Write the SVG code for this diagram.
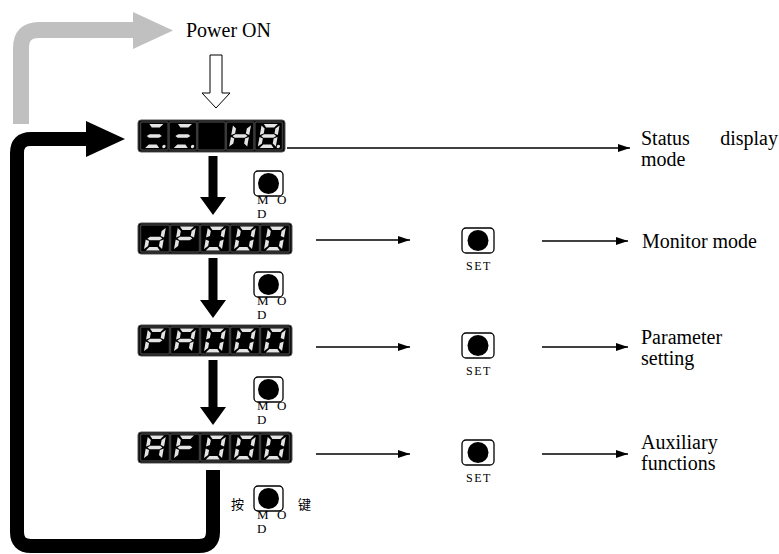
<svg xmlns="http://www.w3.org/2000/svg" xmlns:xlink="http://www.w3.org/1999/xlink" width="779" height="554" viewBox="0 0 779 554">
<style>
text{font-family:'Liberation Serif','Times New Roman','DejaVu Serif',serif;fill:#000}
.lbl{font-size:20px}
.sm{font-size:13px}
.set{font-size:12px;letter-spacing:1.5px}
.cjk{font-family:'Noto Sans CJK SC',sans-serif;font-size:13px}
.seg{fill:#e4e4e4}
.disp{fill:#050505;stroke:#555;stroke-width:1}
.cell{fill:#000;stroke:#3a3a3a;stroke-width:1.5}
.btn{fill:#fff;stroke:#000;stroke-width:1.3}
.thin{fill:none;stroke:#000;stroke-width:1.5}
</style>
<defs>
<marker id="ah" viewBox="0 0 12 8" refX="12" refY="4" markerWidth="12" markerHeight="8" markerUnits="userSpaceOnUse" orient="auto"><path d="M0,0 L12,4 L0,8 z" fill="#000"/></marker>
<polygon id="sa" class="seg" points="2,0 16,0 13,3.6 5,3.6"/>
<polygon id="sb" class="seg" points="18,1.5 18,11 14.4,9.6 14.4,4.4"/>
<polygon id="sc" class="seg" points="18,13 18,22.5 14.4,19.6 14.4,14.4"/>
<polygon id="sd" class="seg" points="5,20.4 13,20.4 16,24 2,24"/>
<polygon id="se" class="seg" points="0,13 3.6,14.4 3.6,19.6 0,22.5"/>
<polygon id="sf" class="seg" points="0,1.5 3.6,4.4 3.6,9.6 0,11"/>
<polygon id="sg" class="seg" points="1.5,12 4,10.2 14,10.2 16.5,12 14,13.8 4,13.8"/>
<circle id="sdp" class="seg" cx="20.5" cy="22.5" r="1.7"/>
<g id="g8"><use href="#sa"/><use href="#sb"/><use href="#sc"/><use href="#sd"/><use href="#se"/><use href="#sf"/><use href="#sg"/></g>
<g id="g0"><use href="#sa"/><use href="#sb"/><use href="#sc"/><use href="#sd"/><use href="#se"/><use href="#sf"/></g>
<g id="gd"><use href="#sb"/><use href="#sc"/><use href="#sd"/><use href="#se"/><use href="#sg"/></g>
<g id="gP"><use href="#sa"/><use href="#sb"/><use href="#se"/><use href="#sf"/><use href="#sg"/></g>
<g id="gA"><use href="#sa"/><use href="#sb"/><use href="#sc"/><use href="#se"/><use href="#sf"/><use href="#sg"/></g>
<g id="gF"><use href="#sa"/><use href="#se"/><use href="#sf"/><use href="#sg"/></g>
<g id="gH"><use href="#sb"/><use href="#sc"/><use href="#se"/><use href="#sf"/><use href="#sg"/></g>
<g id="g3"><use href="#sa"/><use href="#sg"/><use href="#sd"/><use href="#sdp"/></g>
<g id="g8p"><use href="#g8"/><use href="#sdp"/></g>
<g id="mod">
<text class="sm" x="3" y="33">M</text><text class="sm" x="23" y="33">O</text>
<text class="sm" x="3" y="47">D</text>
<rect class="btn" x="0" y="0" width="29" height="25" rx="4"/>
<circle cx="14.5" cy="12.5" r="10.5" fill="#000"/>
</g>
<g id="setb">
<rect class="btn" x="0" y="0" width="32" height="25" rx="4"/>
<circle cx="16" cy="12.5" r="10.5" fill="#000"/>
<text class="set" x="4" y="42">SET</text>
</g>
</defs>

<g id="connectors">
<path d="M21 124 V48 Q21 30 39 30 H135" fill="none" stroke="#c0c0c0" stroke-width="16"/>
<polygon points="133,12 173,30.5 133,49" fill="#c0c0c0"/>
<polygon points="210,55 222,55 222,93 230,93 216,108 202,93 210,93" fill="#fff" stroke="#000" stroke-width="1"/>
<polygon points="208.5,156 217.5,156 217.5,197 226,197 213,215 200,197 208.5,197" fill="#000"/>
<polygon points="208.5,258 217.5,258 217.5,300 226,300 213,318 200,300 208.5,300" fill="#000"/>
<polygon points="208.5,360 217.5,360 217.5,407 226,407 213,425 200,407 208.5,407" fill="#000"/>
<path d="M213 470 V532 Q213 546 199 546 H31 Q17 546 17 532 V153 Q17 139 31 139 H90" fill="none" stroke="#000" stroke-width="14"/>
<polygon points="86,121 125,139 86,157" fill="#000"/>
<path class="thin" d="M287 148 H630" marker-end="url(#ah)"/>
<path class="thin" d="M316 240 H410" marker-end="url(#ah)"/>
<path class="thin" d="M542 241 H628" marker-end="url(#ah)"/>
<path class="thin" d="M316 347 H410" marker-end="url(#ah)"/>
<path class="thin" d="M542 347 H628" marker-end="url(#ah)"/>
<path class="thin" d="M316 454 H410" marker-end="url(#ah)"/>
<path class="thin" d="M542 454 H628" marker-end="url(#ah)"/>
</g>

<g id="power-on"><text class="lbl" x="186" y="37" font-size="21">Power ON</text></g>

<g id="display-status">
<rect class="disp" x="138" y="120" width="147" height="32" rx="3"/>
<rect class="cell" x="140.5" y="122" width="27.6" height="28" rx="1.5"/>
<rect class="cell" x="169.1" y="122" width="27.6" height="28" rx="1.5"/>
<rect class="cell" x="197.7" y="122" width="27.6" height="28" rx="1.5"/>
<rect class="cell" x="226.3" y="122" width="27.6" height="28" rx="1.5"/>
<rect class="cell" x="254.9" y="122" width="27.6" height="28" rx="1.5"/>
<use href="#g3" transform="translate(147.4,124) skewX(-10)"/>
<use href="#g3" transform="translate(176,124) skewX(-10)"/>
<use href="#gH" transform="translate(233.2,124) skewX(-10)"/>
<use href="#g8p" transform="translate(261.8,124) skewX(-10)"/>
</g>

<g id="display-dp">
<rect class="disp" x="138" y="223" width="154" height="31" rx="3"/>
<rect class="cell" x="140.5" y="225" width="29" height="27" rx="1.5"/>
<rect class="cell" x="170.5" y="225" width="29" height="27" rx="1.5"/>
<rect class="cell" x="200.5" y="225" width="29" height="27" rx="1.5"/>
<rect class="cell" x="230.5" y="225" width="29" height="27" rx="1.5"/>
<rect class="cell" x="260.5" y="225" width="29" height="27" rx="1.5"/>
<use href="#gd" transform="translate(148,226.5) skewX(-10)"/>
<use href="#gP" transform="translate(178,226.5) skewX(-10)"/>
<use href="#g0" transform="translate(208,226.5) skewX(-10)"/>
<use href="#g0" transform="translate(238,226.5) skewX(-10)"/>
<use href="#g0" transform="translate(268,226.5) skewX(-10)"/>
</g>

<g id="display-pa">
<rect class="disp" x="138" y="325" width="154" height="31" rx="3"/>
<rect class="cell" x="140.5" y="327" width="29" height="27" rx="1.5"/>
<rect class="cell" x="170.5" y="327" width="29" height="27" rx="1.5"/>
<rect class="cell" x="200.5" y="327" width="29" height="27" rx="1.5"/>
<rect class="cell" x="230.5" y="327" width="29" height="27" rx="1.5"/>
<rect class="cell" x="260.5" y="327" width="29" height="27" rx="1.5"/>
<use href="#gP" transform="translate(148,328.5) skewX(-10)"/>
<use href="#gA" transform="translate(178,328.5) skewX(-10)"/>
<use href="#g0" transform="translate(208,328.5) skewX(-10)"/>
<use href="#g0" transform="translate(238,328.5) skewX(-10)"/>
<use href="#g0" transform="translate(268,328.5) skewX(-10)"/>
</g>

<g id="display-af">
<rect class="disp" x="138" y="432" width="154" height="31" rx="3"/>
<rect class="cell" x="140.5" y="434" width="29" height="27" rx="1.5"/>
<rect class="cell" x="170.5" y="434" width="29" height="27" rx="1.5"/>
<rect class="cell" x="200.5" y="434" width="29" height="27" rx="1.5"/>
<rect class="cell" x="230.5" y="434" width="29" height="27" rx="1.5"/>
<rect class="cell" x="260.5" y="434" width="29" height="27" rx="1.5"/>
<use href="#gA" transform="translate(148,435.5) skewX(-10)"/>
<use href="#gF" transform="translate(178,435.5) skewX(-10)"/>
<use href="#g0" transform="translate(208,435.5) skewX(-10)"/>
<use href="#g0" transform="translate(238,435.5) skewX(-10)"/>
<use href="#g0" transform="translate(268,435.5) skewX(-10)"/>
</g>

<g id="mod-button-1"><use href="#mod" transform="translate(254,171)"/></g>
<g id="mod-button-2"><use href="#mod" transform="translate(254,272)"/></g>
<g id="mod-button-3"><use href="#mod" transform="translate(254,377)"/></g>
<g id="mod-button-4"><use href="#mod" transform="translate(254,486)"/>
<text class="cjk" x="231" y="509">按</text><text class="cjk" x="298" y="509">键</text></g>

<g id="set-button-2"><use href="#setb" transform="translate(462,228)"/></g>
<g id="set-button-3"><use href="#setb" transform="translate(462,333)"/></g>
<g id="set-button-4"><use href="#setb" transform="translate(462,440)"/></g>

<g id="label-status"><text class="lbl" x="641" y="145">Status</text><text class="lbl" x="778" y="145" text-anchor="end">display</text><text class="lbl" x="641" y="166">mode</text></g>
<g id="label-monitor"><text class="lbl" x="642" y="248" font-size="21">Monitor mode</text></g>
<g id="label-param"><text class="lbl" x="641" y="344">Parameter</text><text class="lbl" x="641" y="365">setting</text></g>
<g id="label-aux"><text class="lbl" x="641" y="449">Auxiliary</text><text class="lbl" x="641" y="470">functions</text></g>
</svg>
